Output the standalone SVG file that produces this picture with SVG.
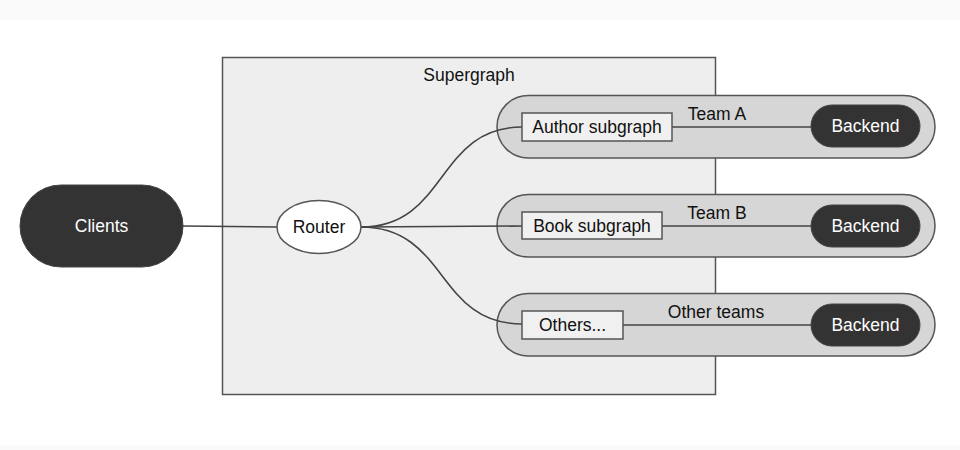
<svg xmlns="http://www.w3.org/2000/svg" width="960" height="450" viewBox="0 0 960 450">
<style>
text{font-family:"Liberation Sans",Arial,sans-serif;font-size:17.5px;fill:#111;text-anchor:middle}
.w{fill:#fff}
.team{fill:#d6d6d6;stroke:#555;stroke-width:1.5}
.sub{fill:#f0f0f0;stroke:#555;stroke-width:1.5}
.dark{fill:#333;stroke:#444;stroke-width:1}
.conn{fill:none;stroke:#444;stroke-width:1.6}
</style>
<rect x="0" y="0" width="960" height="20" fill="#fafafa"/>
<rect x="0" y="445.5" width="960" height="4.5" fill="#fafafa"/>
<g id="supergraph">
<rect x="222.5" y="57.5" width="493" height="337" fill="#eeeeee" stroke="#555" stroke-width="1.5"/>
<text x="469" y="81">Supergraph</text>
</g>
<g id="teamA">
<rect class="team" x="497" y="95.5" width="438" height="62.5" rx="31.25"/>
<text x="717" y="120">Team A</text>
</g>
<g id="teamB">
<rect class="team" x="497" y="194.5" width="438" height="62.5" rx="31.25"/>
<text x="717" y="219">Team B</text>
</g>
<g id="teamC">
<rect class="team" x="497" y="293.5" width="438" height="62.5" rx="31.25"/>
<text x="716" y="318">Other teams</text>
</g>
<g id="connectors">
<path class="conn" d="M183,226 L277,227"/>
<path class="conn" d="M361,227 C448,227 436,127 522,127"/>
<path class="conn" d="M361,227 L522,226"/>
<path class="conn" d="M361,227 C448,227 436,324 522,324"/>
<path class="conn" d="M672,127 L811,127"/>
<path class="conn" d="M662,226 L811,226"/>
<path class="conn" d="M623,325 L811,325"/>
</g>
<g id="clients">
<rect class="dark" x="20" y="185" width="163" height="82" rx="41"/>
<text class="w" x="101.5" y="232">Clients</text>
</g>
<g id="router">
<ellipse cx="319" cy="227" rx="42" ry="26.5" fill="#fff" stroke="#555" stroke-width="1.5"/>
<text x="319" y="233">Router</text>
</g>
<g id="author">
<rect class="sub" x="522" y="113" width="150" height="28"/>
<text x="597" y="133">Author subgraph</text>
</g>
<g id="book">
<rect class="sub" x="522" y="212" width="140" height="27"/>
<text x="592" y="232">Book subgraph</text>
</g>
<g id="others">
<rect class="sub" x="522" y="311" width="101" height="28"/>
<text x="572.5" y="331">Others...</text>
</g>
<g id="backendA">
<rect class="dark" x="811" y="105" width="109" height="42" rx="21"/>
<text class="w" x="865.5" y="132">Backend</text>
</g>
<g id="backendB">
<rect class="dark" x="811" y="205" width="109" height="42" rx="21"/>
<text class="w" x="865.5" y="232">Backend</text>
</g>
<g id="backendC">
<rect class="dark" x="811" y="304" width="109" height="42" rx="21"/>
<text class="w" x="865.5" y="331">Backend</text>
</g>
</svg>
